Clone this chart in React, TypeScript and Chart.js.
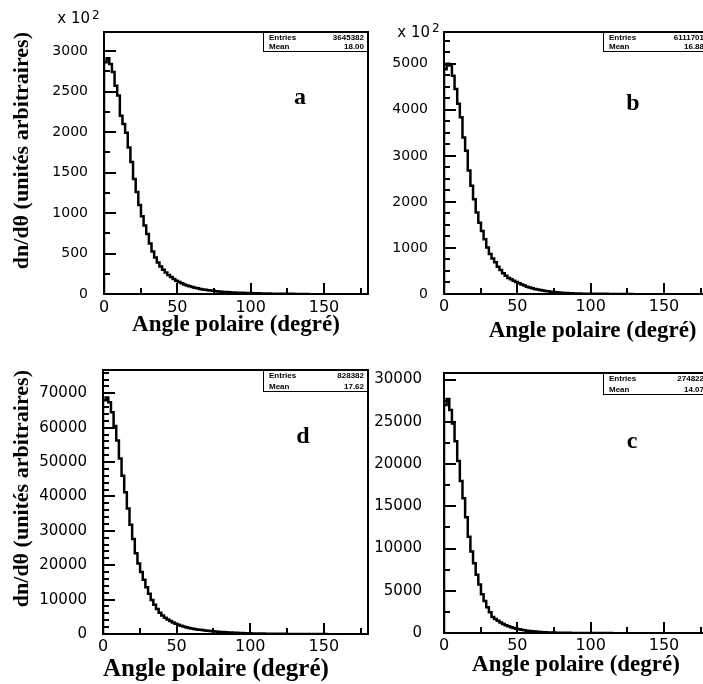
import React, { useEffect, useRef } from "react";
import { Chart, registerables } from "chart.js";

Chart.register(...registerables);

// ---------------- data ----------------
const BIN_WIDTH_DEG = 1.8;
const X_MIN_DEG = 0;
const X_MAX_DEG = 180;
const X_TICKS = [0, 50, 100, 150];
const X_MINOR_STEP = 25;

// panel a (values in units of 10^2)
const HIST_A = [
  2860, 2910, 2840, 2740, 2570, 2450, 2200, 2100, 1990, 1810, 1630, 1420, 1260, 1100, 960, 845,
  740, 625, 525, 450, 390, 340, 300, 265, 235, 210, 185, 165, 148, 132, 118, 106, 95, 86, 78, 70,
  63, 57, 52, 47, 43, 39, 35, 32, 29, 26, 24, 22, 20, 18, 16, 15, 14, 13, 12, 11, 10, 9, 8, 7, 6,
  5, 5, 4, 4, 3, 3, 3, 2, 2, 2, 2, 1, 1, 1, 1, 1, 0,
];
// panel b (values in units of 10^2)
const HIST_B = [
  4880, 5000, 4960, 4740, 4450, 4130, 3840, 3400, 3110, 2680, 2350, 2060, 1770, 1550, 1370, 1190,
  1010, 870, 770, 690, 590, 520, 450, 395, 350, 320, 290, 260, 232, 205, 182, 160, 142, 125, 110,
  97, 85, 75, 66, 58, 51, 44, 38, 33, 28, 24, 20, 17, 14, 12, 10, 9, 8, 7, 6, 5, 5, 4, 4, 3, 3, 3,
  2, 2, 2, 2, 1, 1, 1, 1, 1, 0,
];
// panel d
const HIST_D = [
  68000, 68800, 67400, 64500, 60500, 56300, 51000, 46000, 41200, 36500, 31800, 27600, 23500, 20500,
  18000, 15800, 13600, 11700, 9900, 8500, 7300, 6200, 5400, 4700, 4200, 3750, 3350, 3000, 2700,
  2420, 2180, 1960, 1760, 1600, 1460, 1340, 1230, 1130, 1040, 950, 870, 800, 730, 670, 610, 555,
  505, 460, 420, 380, 345, 310, 280, 250, 225, 200, 178, 158, 140, 124, 110, 97, 85, 75, 66, 58,
  50, 44, 38, 33, 28, 24, 20, 17, 14, 12, 10, 8, 6, 5, 4, 3, 2, 1, 0,
];
// panel c
const HIST_C = [
  27000, 27700, 26400, 24800, 22700, 20350, 18000, 15950, 13700, 11400, 9650, 8250, 6900, 5750,
  4600, 3800, 3050, 2450, 1900, 1650, 1450, 1250, 1070, 920, 790, 680, 585, 500, 430, 370, 318,
  272, 232, 198, 168, 143, 121, 102, 86, 73, 61, 51, 43, 36, 30, 25, 21, 17, 14, 12, 10, 8, 7, 6,
  5, 4, 3, 3, 2, 2, 1, 1, 1, 0,
];

const Y_TICKS_A = [0, 500, 1000, 1500, 2000, 2500, 3000];
const Y_TICKS_B = [0, 1000, 2000, 3000, 4000, 5000];
const Y_TICKS_D = [0, 10000, 20000, 30000, 40000, 50000, 60000, 70000];
const Y_TICKS_C = [0, 5000, 10000, 15000, 20000, 25000, 30000];

const PANEL_LETTERS = ["a", "b", "d", "c"];
const ENTRIES = ["3645382", "6111701", "828382", "274822"];
const MEANS = ["18.00", "16.88", "17.62", "14.07"];
const X_TITLE = "Angle polaire (degré)";
const Y_TITLE = "dn/dθ (unités arbitraires)";
const SCALE_NOTE = "x 10";
const SCALE_EXP = "2";

// ---------------- layout / style ----------------
type Panel = {
  hist: number[];
  yTicks: number[];
  yMinor: number;
  yMax: number;
  letter: string;
  entries: string;
  mean: string;
  left: number;
  top: number;
  w: number;
  h: number;
  area: { l: number; t: number; r: number; b: number };
  yFont: number;
  yPad: number;
  xPad: number;
  xTitle: string;
  xTitleSize: number;
  xTitleAlign: "start" | "center" | "end";
  xTitlePad: number;
  showYTitle: boolean;
  letterPos: [number, number];
  scaleNote: null | { right: number; base: number; expBase: number };
  boxH: number;
};

const PANELS: Panel[] = [
  {
    hist: HIST_A, yTicks: Y_TICKS_A, yMinor: 250, yMax: 3235,
    letter: PANEL_LETTERS[0], entries: ENTRIES[0], mean: MEANS[0],
    left: 0, top: 0, w: 372, h: 350, area: { l: 104, t: 32, r: 368, b: 294 },
    yFont: 14, yPad: 16, xPad: 4, xTitle: X_TITLE, xTitleSize: 23, xTitleAlign: "center", xTitlePad: 11,
    showYTitle: true, letterPos: [196, 72],
    scaleNote: { right: -14, base: -9, expBase: -13 }, boxH: 20,
  },
  {
    hist: HIST_B, yTicks: Y_TICKS_B, yMinor: 250, yMax: 5690,
    letter: PANEL_LETTERS[1], entries: ENTRIES[1], mean: MEANS[1],
    left: 362, top: 0, w: 350, h: 350, area: { l: 82, t: 32, r: 346, b: 294 },
    yFont: 14, yPad: 16, xPad: 3, xTitle: X_TITLE + "  ", xTitleSize: 23, xTitleAlign: "end", xTitlePad: 5,
    showYTitle: false, letterPos: [189, 78],
    scaleNote: { right: -14, base: 5, expBase: 0 }, boxH: 20,
  },
  {
    hist: HIST_D, yTicks: Y_TICKS_D, yMinor: 2000, yMax: 76770,
    letter: PANEL_LETTERS[2], entries: ENTRIES[2], mean: MEANS[2],
    left: 0, top: 342, w: 372, h: 350, area: { l: 103, t: 28, r: 368, b: 292 },
    yFont: 15, yPad: 16, xPad: 3, xTitle: X_TITLE, xTitleSize: 25, xTitleAlign: "start", xTitlePad: 7,
    showYTitle: true, letterPos: [200, 73],
    scaleNote: null, boxH: 22,
  },
  {
    hist: HIST_C, yTicks: Y_TICKS_C, yMinor: 2500, yMax: 30780,
    letter: PANEL_LETTERS[3], entries: ENTRIES[3], mean: MEANS[3],
    left: 362, top: 342, w: 350, h: 350, area: { l: 82, t: 28, r: 346, b: 291 },
    yFont: 15, yPad: 22, xPad: 3, xTitle: X_TITLE, xTitleSize: 23, xTitleAlign: "center", xTitlePad: 13,
    showYTitle: false, letterPos: [188, 75],
    scaleNote: null, boxH: 22,
  },
];

const SANS = "'DejaVu Sans'";
const SERIF = "'Liberation Serif'";

function histPoints(values: number[]) {
  const pts = [{ x: X_MIN_DEG, y: 0 }];
  values.forEach((v, i) => pts.push({ x: X_MIN_DEG + (i + 1) * BIN_WIDTH_DEG, y: v }));
  return pts;
}

function makeDecor(p: Panel) {
  return {
    id: "rootDecor",
    afterDraw(chart: any) {
      const { ctx, chartArea: a, scales } = chart;
      const xs = scales.x;
      const ys = scales.y;
      ctx.save();
      ctx.strokeStyle = "#000";
      ctx.lineWidth = 2;
      ctx.lineCap = "butt";
      ctx.beginPath();
      for (let v = X_MIN_DEG; v <= X_MAX_DEG; v += X_MINOR_STEP) {
        const px = Math.round(xs.getPixelForValue(v));
        const major = X_TICKS.includes(v);
        ctx.moveTo(px, a.bottom);
        ctx.lineTo(px, a.bottom - (major ? 11 : 6));
      }
      for (let v = 0; v <= p.yMax; v += p.yMinor) {
        const py = Math.round(ys.getPixelForValue(v));
        const major = p.yTicks.includes(v);
        ctx.moveTo(a.left, py);
        ctx.lineTo(a.left + (major ? 12 : 6), py);
      }
      ctx.stroke();
      ctx.strokeRect(a.left, a.top, a.right - a.left, a.bottom - a.top);

      // statistics box
      const bw = 105;
      const bx = a.right - bw;
      const by = a.top;
      ctx.fillStyle = "#fff";
      ctx.fillRect(bx, by, bw, p.boxH);
      ctx.lineWidth = 1;
      ctx.strokeRect(bx + 0.5, by + 0.5, bw - 1, p.boxH - 1);
      ctx.fillStyle = "#000";
      ctx.font = "bold 8px 'Liberation Sans'";
      ctx.textBaseline = "middle";
      ctx.textAlign = "left";
      ctx.fillText("Entries", bx + 6, by + p.boxH * 0.27);
      ctx.fillText("Mean", bx + 6, by + p.boxH * 0.76);
      ctx.textAlign = "right";
      ctx.fillText(p.entries, a.right - 4, by + p.boxH * 0.27);
      ctx.fillText(p.mean, a.right - 4, by + p.boxH * 0.76);

      // panel letter
      ctx.font = `bold 24px ${SERIF}`;
      ctx.textAlign = "center";
      ctx.textBaseline = "alphabetic";
      ctx.fillText(p.letter, a.left + p.letterPos[0], a.top + p.letterPos[1]);

      // x 10^2 multiplier
      if (p.scaleNote) {
        const n = p.scaleNote;
        ctx.font = `15px ${SANS}`;
        ctx.textAlign = "right";
        ctx.fillText(SCALE_NOTE, a.left + n.right, a.top + n.base);
        ctx.font = `12px ${SANS}`;
        ctx.textAlign = "left";
        ctx.fillText(SCALE_EXP, a.left + n.right + 2, a.top + n.expBase);
      }
      ctx.restore();
    },
  };
}

function PanelChart({ p }: { p: Panel }) {
  const ref = useRef<HTMLCanvasElement | null>(null);
  useEffect(() => {
    if (!ref.current) return;
    const chart = new Chart(ref.current, {
      type: "line",
      data: {
        datasets: [
          {
            data: histPoints(p.hist),
            stepped: "after",
            borderColor: "#000",
            borderWidth: 2.5,
            pointRadius: 0,
            fill: false,
            tension: 0,
          } as any,
        ],
      },
      options: {
        responsive: false,
        animation: false,
        devicePixelRatio: 1,
        events: [],
        layout: { padding: { left: 0, top: p.area.t, right: p.w - p.area.r, bottom: 0 } },
        plugins: { legend: { display: false }, tooltip: { enabled: false }, title: { display: false } },
        scales: {
          x: {
            type: "linear",
            position: "bottom",
            min: X_MIN_DEG,
            max: X_MAX_DEG,
            grid: { display: false, drawTicks: false },
            border: { display: false },
            afterBuildTicks: (s: any) => {
              s.ticks = X_TICKS.map((v) => ({ value: v }));
            },
            afterFit: (s: any) => {
              s.height = p.h - p.area.b;
            },
            ticks: {
              color: "#000",
              font: { family: SANS, size: 16 },
              padding: p.xPad,
              maxRotation: 0,
              autoSkip: false,
              callback: (v: any) => String(v),
            },
            title: {
              display: true,
              text: p.xTitle,
              color: "#000",
              align: p.xTitleAlign,
              font: { family: SERIF, size: p.xTitleSize, weight: "bold" },
              padding: { top: 0, bottom: p.xTitlePad },
            },
          },
          y: {
            type: "linear",
            position: "left",
            min: 0,
            max: p.yMax,
            grid: { display: false, drawTicks: false },
            border: { display: false },
            afterBuildTicks: (s: any) => {
              s.ticks = p.yTicks.map((v) => ({ value: v }));
            },
            afterFit: (s: any) => {
              s.width = p.area.l;
            },
            ticks: {
              color: "#000",
              font: { family: SANS, size: p.yFont },
              padding: p.yPad,
              autoSkip: false,
              callback: (v: any) => String(v),
            },
            title: {
              display: p.showYTitle,
              text: Y_TITLE,
              color: "#000",
              align: "end",
              font: { family: SERIF, size: 22, weight: "bold" },
              padding: { top: 9, bottom: 0 },
            },
          },
        },
      } as any,
      plugins: [makeDecor(p)],
    });
    return () => chart.destroy();
  }, [p]);
  return (
    <canvas
      ref={ref}
      width={p.w}
      height={p.h}
      style={{ position: "absolute", left: p.left, top: p.top, width: p.w, height: p.h }}
    />
  );
}

export default function App() {
  return (
    <div
      style={{
        position: "fixed",
        left: 0,
        top: 0,
        width: 703,
        height: 684,
        overflow: "hidden",
        background: "#fff",
      }}
    >
      {PANELS.map((p, i) => (
        <PanelChart key={i} p={p} />
      ))}
    </div>
  );
}
